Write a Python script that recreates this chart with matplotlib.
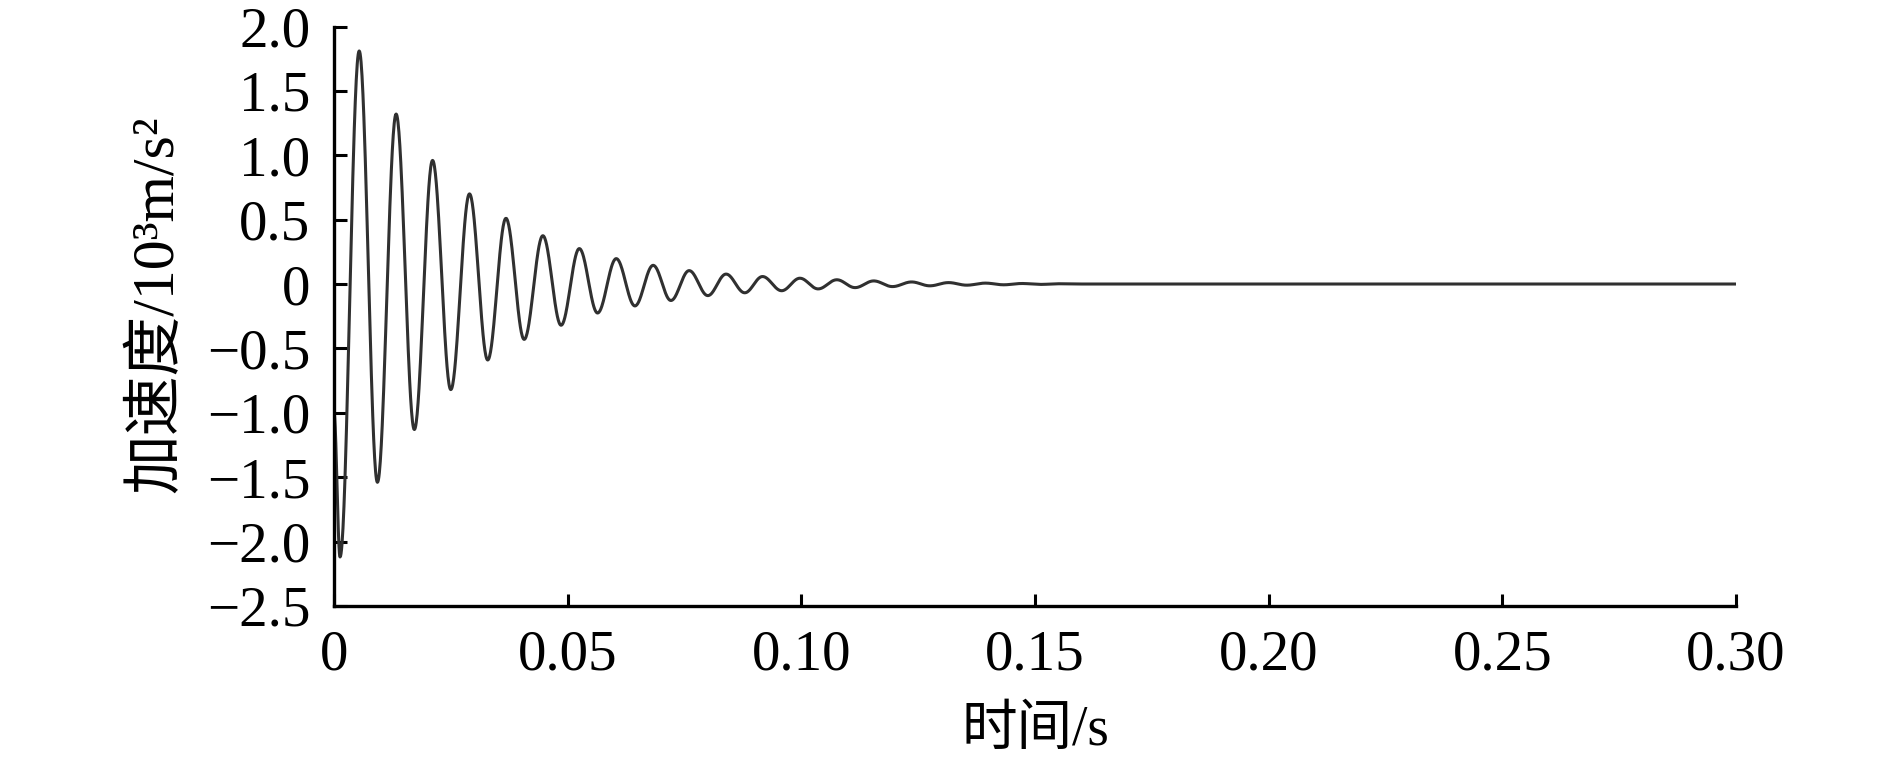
import numpy as np
import matplotlib
matplotlib.use("Agg")
import matplotlib.pyplot as plt

plt.rcParams["font.family"] = ["Liberation Serif", "Noto Sans CJK SC", "DejaVu Sans"]

# extrema of the damped oscillation (time in s, accel in 10^3 m/s^2)
peak_t = [0, 0.0013, 0.0054, 0.0093, 0.0133, 0.0172, 0.0211, 0.0250, 0.0290, 0.0329,
          0.0368, 0.0407, 0.0447, 0.0486, 0.0525, 0.0564, 0.0604, 0.0644, 0.0683, 0.0721,
          0.0760, 0.0800, 0.0839, 0.0879, 0.0917, 0.0958, 0.0997, 0.1036, 0.1076, 0.1115,
          0.1155, 0.1195, 0.1236, 0.1275, 0.1315, 0.1354, 0.1394, 0.1433, 0.1472, 0.1512,
          0.1551, 0.16, 0.30]
peak_a = [-1.0, -2.12, 1.81, -1.54, 1.32, -1.13, 0.96, -0.82, 0.70, -0.59,
          0.51, -0.43, 0.375, -0.32, 0.275, -0.225, 0.197, -0.17, 0.145, -0.128,
          0.104, -0.09, 0.077, -0.068, 0.058, -0.052, 0.045, -0.038, 0.033, -0.028,
          0.024, -0.02, 0.016, -0.014, 0.011, -0.009, 0.007, -0.006, 0.004, -0.003,
          0.002, 0, 0]

xticks = [0, 0.05, 0.10, 0.15, 0.20, 0.25, 0.30]
xtick_labels = ["0", "0.05", "0.10", "0.15", "0.20", "0.25", "0.30"]
yticks = [-2.5, -2.0, -1.5, -1.0, -0.5, 0, 0.5, 1.0, 1.5, 2.0]
ytick_labels = ["\u22122.5", "\u22122.0", "\u22121.5", "\u22121.0", "\u22120.5",
                "0", "0.5", "1.0", "1.5", "2.0"]

# join neighbouring extrema with half-cosine arcs so the trace looks smooth
ts, ys = [], []
for i in range(len(peak_t) - 1):
    s = np.linspace(0, 1, 40)
    w = (1 - np.cos(np.pi * s)) / 2
    ts.append(peak_t[i] + (peak_t[i + 1] - peak_t[i]) * s)
    ys.append(peak_a[i] + (peak_a[i + 1] - peak_a[i]) * w)
t = np.concatenate(ts)
a = np.concatenate(ys)

fig = plt.figure(figsize=(18.9, 7.66), dpi=100)
ax = fig.add_axes([0.1767, 0.209, 0.9185 - 0.1767, 0.9654 - 0.209])

ax.plot(t, a, color="#303030", lw=2.2)

ax.set_xlim(0, 0.30)
ax.set_ylim(-2.5, 2.0)
ax.set_xticks(xticks)
ax.set_xticklabels(xtick_labels)
ax.set_yticks(yticks)
ax.set_yticklabels(ytick_labels)

for side in ["top", "right"]:
    ax.spines[side].set_visible(False)
for side in ["left", "bottom"]:
    ax.spines[side].set_linewidth(2.4)

ax.tick_params(axis="both", direction="in", length=9, width=2.2, labelsize=41)
ax.tick_params(axis="x", pad=17)
ax.tick_params(axis="y", pad=17)

ax.set_xlabel("时间/s", fontsize=40, labelpad=17)
ax.set_ylabel("加速度/10³m/s²", fontsize=43, labelpad=10)
ax.yaxis.set_label_coords(-0.106, 0.52)

fig.savefig("out.png", dpi=100)
